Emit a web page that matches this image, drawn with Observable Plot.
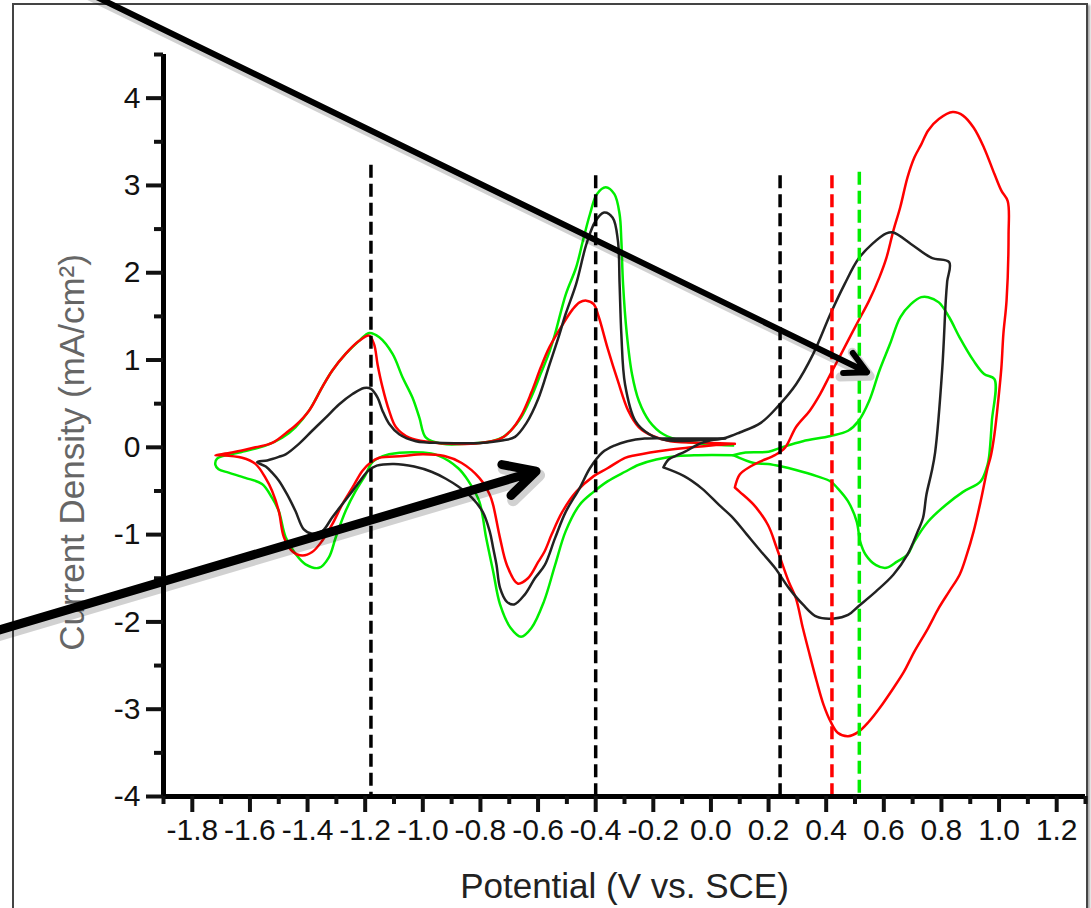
<!DOCTYPE html>
<html><head><meta charset="utf-8">
<script src="https://cdn.jsdelivr.net/npm/d3@7"></script>
<script src="https://cdn.jsdelivr.net/npm/@observablehq/plot@0.6"></script>
<style>
html,body{margin:0;padding:0;overflow:hidden;background:#fff;}
#wrap{position:relative;width:1091px;height:908px;overflow:hidden;}
#border{position:absolute;left:12px;top:3px;width:1072px;height:1000px;border:2px solid #444;box-shadow:2px 2px 2px rgba(0,0,0,0.35);}
#chart{position:absolute;left:0;top:0;}
</style></head><body>
<div id="wrap"><div id="border"></div><div id="chart"></div></div>
<script>
// ---- axis ticks ----
const xTicksMajor = [-1.8,-1.6,-1.4,-1.2,-1.0,-0.8,-0.6,-0.4,-0.2,0.0,0.2,0.4,0.6,0.8,1.0,1.2];
const xTicksMinor = [-1.9,-1.7,-1.5,-1.3,-1.1,-0.9,-0.7,-0.5,-0.3,-0.1,0.1,0.3,0.5,0.7,0.9,1.1,1.3];
const yTicksMajor = [-4,-3,-2,-1,0,1,2,3,4];
const yTicksMinor = [-3.5,-2.5,-1.5,-0.5,0.5,1.5,2.5,3.5,4.5];
const xTitle = "Potential (V vs. SCE)";
const yTitle = "Current Density (mA/cm\u00B2)";

// ---- black CV (potential V, current mA/cm2) ----
const blackLeft = [[0.05,0.10],[-0.10,0.10],[-0.23,0.10],[-0.29,0.07],[-0.335,0.02],[-0.377,-0.06],[-0.42,-0.24],[-0.456,-0.47],[-0.504,-0.74],[-0.541,-1.04],[-0.577,-1.35],[-0.611,-1.50],[-0.647,-1.69],[-0.683,-1.80],[-0.708,-1.77],[-0.732,-1.61],[-0.744,-1.35],[-0.756,-1.15],[-0.768,-0.96],[-0.792,-0.74],[-0.829,-0.58],[-0.877,-0.45],[-0.92,-0.36],[-0.97,-0.28],[-1.03,-0.22],[-1.10,-0.19],[-1.16,-0.21],[-1.19,-0.27],[-1.21,-0.35],[-1.244,-0.50],[-1.279,-0.65],[-1.314,-0.80],[-1.349,-0.96],[-1.384,-0.99],[-1.413,-0.94],[-1.442,-0.73],[-1.471,-0.54],[-1.50,-0.38],[-1.523,-0.29],[-1.545,-0.22],[-1.575,-0.17],[-1.54,-0.15],[-1.50,-0.11],[-1.476,-0.08],[-1.43,0.04],[-1.384,0.19],[-1.337,0.34],[-1.291,0.49],[-1.244,0.61],[-1.204,0.68],[-1.18,0.67],[-1.157,0.57],[-1.14,0.42],[-1.117,0.27],[-1.082,0.15],[-1.024,0.07],[-0.93,0.05],[-0.80,0.05],[-0.72,0.08],[-0.68,0.12],[-0.64,0.28],[-0.60,0.55],[-0.56,0.95],[-0.53,1.25],[-0.504,1.53],[-0.468,1.87],[-0.432,2.33],[-0.401,2.59],[-0.371,2.69],[-0.341,2.63],[-0.323,2.37],[-0.317,1.87],[-0.311,1.30],[-0.298,0.72],[-0.262,0.30],[-0.214,0.15],[-0.153,0.08],[-0.05,0.08],[0.05,0.10]];
const blackRight = [[-0.165,-0.23],[-0.147,-0.14],[-0.117,-0.09],[-0.09,-0.05],[-0.04,0.04],[0.0,0.08],[0.052,0.11],[0.10,0.17],[0.173,0.28],[0.234,0.475],[0.295,0.72],[0.355,1.07],[0.415,1.53],[0.464,1.87],[0.512,2.16],[0.56,2.33],[0.609,2.45],[0.633,2.46],[0.694,2.33],[0.766,2.17],[0.827,2.12],[0.82,1.90],[0.815,1.68],[0.803,0.91],[0.778,-0.06],[0.766,-0.28],[0.748,-0.54],[0.736,-0.81],[0.718,-0.96],[0.682,-1.23],[0.633,-1.46],[0.573,-1.65],[0.512,-1.82],[0.476,-1.92],[0.428,-1.96],[0.367,-1.94],[0.319,-1.80],[0.27,-1.61],[0.222,-1.38],[0.173,-1.19],[0.125,-1.0],[0.077,-0.81],[0.028,-0.66],[-0.032,-0.47],[-0.093,-0.33],[-0.165,-0.23]];

// ---- red CV ----
const redLeft = [[0.083,0.04],[0.0,0.02],[-0.15,-0.03],[-0.262,-0.09],[-0.298,-0.12],[-0.359,-0.24],[-0.407,-0.33],[-0.468,-0.51],[-0.516,-0.74],[-0.553,-1.0],[-0.577,-1.19],[-0.599,-1.31],[-0.635,-1.50],[-0.671,-1.56],[-0.708,-1.35],[-0.732,-1.04],[-0.756,-0.66],[-0.768,-0.54],[-0.804,-0.35],[-0.865,-0.18],[-0.925,-0.10],[-1.0,-0.08],[-1.07,-0.10],[-1.151,-0.12],[-1.18,-0.17],[-1.21,-0.27],[-1.244,-0.46],[-1.279,-0.65],[-1.314,-0.88],[-1.349,-1.07],[-1.384,-1.20],[-1.418,-1.24],[-1.453,-1.19],[-1.482,-1.03],[-1.50,-0.73],[-1.523,-0.50],[-1.546,-0.35],[-1.581,-0.19],[-1.627,-0.12],[-1.697,-0.09],[-1.72,-0.09],[-1.662,-0.06],[-1.581,0.0],[-1.523,0.05],[-1.465,0.19],[-1.442,0.25],[-1.395,0.42],[-1.349,0.69],[-1.314,0.88],[-1.268,1.07],[-1.221,1.22],[-1.186,1.28],[-1.169,1.18],[-1.157,0.95],[-1.14,0.69],[-1.117,0.42],[-1.093,0.23],[-1.047,0.11],[-0.977,0.06],[-0.908,0.04],[-0.80,0.05],[-0.73,0.10],[-0.695,0.19],[-0.659,0.36],[-0.623,0.63],[-0.59,0.92],[-0.56,1.15],[-0.516,1.40],[-0.48,1.58],[-0.456,1.66],[-0.432,1.68],[-0.407,1.64],[-0.389,1.49],[-0.359,1.14],[-0.323,0.76],[-0.287,0.42],[-0.25,0.23],[-0.202,0.13],[-0.141,0.07],[0.0,0.05],[0.083,0.04]];
const redRight = [[0.083,-0.46],[0.10,-0.31],[0.137,-0.22],[0.173,-0.16],[0.222,-0.09],[0.258,0.0],[0.295,0.23],[0.343,0.42],[0.379,0.61],[0.415,0.84],[0.452,1.07],[0.488,1.30],[0.512,1.45],[0.549,1.68],[0.585,1.95],[0.609,2.17],[0.633,2.48],[0.657,2.75],[0.682,3.09],[0.706,3.32],[0.73,3.47],[0.754,3.63],[0.791,3.76],[0.839,3.84],[0.875,3.80],[0.912,3.66],[0.948,3.43],[0.984,3.13],[1.008,2.94],[1.030,2.82],[1.033,2.44],[1.026,1.68],[1.015,1.30],[1.008,0.91],[0.997,0.53],[0.984,0.15],[0.972,-0.09],[0.96,-0.24],[0.936,-0.62],[0.912,-0.96],[0.888,-1.23],[0.863,-1.46],[0.827,-1.65],[0.791,-1.84],[0.754,-2.07],[0.706,-2.34],[0.67,-2.57],[0.633,-2.76],[0.585,-2.99],[0.549,-3.14],[0.512,-3.26],[0.476,-3.31],[0.44,-3.27],[0.415,-3.14],[0.391,-2.95],[0.367,-2.68],[0.343,-2.38],[0.319,-2.07],[0.295,-1.73],[0.27,-1.54],[0.228,-1.15],[0.198,-0.89],[0.149,-0.66],[0.10,-0.51],[0.083,-0.46]];

// ---- green CV ----
const greenLeft = [[0.077,-0.09],[-0.045,-0.09],[-0.117,-0.10],[-0.19,-0.14],[-0.25,-0.20],[-0.298,-0.28],[-0.359,-0.39],[-0.407,-0.51],[-0.456,-0.66],[-0.504,-0.96],[-0.541,-1.35],[-0.58,-1.77],[-0.623,-2.07],[-0.659,-2.17],[-0.695,-2.07],[-0.732,-1.80],[-0.756,-1.42],[-0.78,-1.04],[-0.804,-0.62],[-0.841,-0.39],[-0.877,-0.24],[-0.95,-0.09],[-1.0,-0.06],[-1.117,-0.08],[-1.163,-0.14],[-1.18,-0.19],[-1.198,-0.31],[-1.233,-0.50],[-1.268,-0.73],[-1.302,-1.03],[-1.326,-1.26],[-1.36,-1.38],[-1.407,-1.34],[-1.442,-1.22],[-1.476,-1.03],[-1.50,-0.73],[-1.523,-0.58],[-1.558,-0.42],[-1.616,-0.35],[-1.674,-0.29],[-1.709,-0.25],[-1.72,-0.20],[-1.714,-0.13],[-1.638,-0.06],[-1.546,0.02],[-1.488,0.11],[-1.442,0.23],[-1.395,0.42],[-1.349,0.69],[-1.314,0.88],[-1.268,1.07],[-1.221,1.22],[-1.186,1.31],[-1.151,1.26],[-1.105,1.07],[-1.07,0.80],[-1.036,0.57],[-1.012,0.34],[-0.989,0.11],[-0.931,0.04],[-0.85,0.04],[-0.76,0.07],[-0.72,0.12],[-0.695,0.19],[-0.659,0.34],[-0.623,0.58],[-0.59,0.85],[-0.56,1.10],[-0.541,1.30],[-0.504,1.75],[-0.468,2.06],[-0.444,2.37],[-0.42,2.67],[-0.396,2.90],[-0.365,2.98],[-0.335,2.90],[-0.317,2.67],[-0.311,2.37],[-0.305,1.87],[-0.292,1.30],[-0.274,0.84],[-0.25,0.53],[-0.214,0.30],[-0.165,0.15],[-0.093,0.07],[0.077,0.02]];
const greenRight = [[0.077,-0.09],[0.12,-0.06],[0.20,-0.05],[0.246,0.0],[0.319,0.07],[0.415,0.13],[0.476,0.19],[0.512,0.30],[0.549,0.53],[0.585,0.88],[0.621,1.18],[0.657,1.49],[0.694,1.64],[0.73,1.72],[0.754,1.72],[0.791,1.66],[0.827,1.49],[0.863,1.26],[0.912,0.99],[0.948,0.84],[0.984,0.78],[0.975,0.30],[0.966,-0.09],[0.96,-0.20],[0.936,-0.39],[0.875,-0.51],[0.815,-0.66],[0.754,-0.85],[0.706,-1.08],[0.682,-1.23],[0.646,-1.31],[0.609,-1.38],[0.573,-1.35],[0.537,-1.23],[0.518,-1.08],[0.506,-0.85],[0.476,-0.62],[0.44,-0.47],[0.415,-0.39],[0.367,-0.33],[0.295,-0.26],[0.246,-0.22],[0.198,-0.19],[0.149,-0.18],[0.077,-0.09]];

// ---- dashed marker potentials ----
const dashBlackX = [-1.18, -0.40, 0.24];
const dashBlackTop = [3.23, 3.11, 3.11];
const dashRedX = [0.42];
const dashRedTop = [3.11];
const dashGreenX = [0.515];
const dashGreenTop = [3.15];

// ---- annotation arrows (data coordinates) ----
const arrowX1 = [-2.212, -2.535];
const arrowY1 = [5.287, -2.156];
const arrowX2 = [0.542, -0.607];
const arrowY2 = [0.860, -0.274];

const BLACK = "#222", RED = "#ff0000", GREEN = "#00ee00";
const segs = [
  {pts: greenLeft, c: GREEN}, {pts: greenRight, c: GREEN},
  {pts: redLeft, c: RED}, {pts: redRight, c: RED},
  {pts: blackLeft, c: BLACK}, {pts: blackRight, c: BLACK}
];

const lineMarks = segs.map(s => Plot.line(s.pts, {x: d => d[0], y: d => d[1], stroke: s.c, strokeWidth: 2.5, curve: "catmull-rom"}));

function dashMark(xs, tops, color) {
  return Plot.ruleX(xs.map((x, i) => ({x, top: tops[i]})), {x: "x", y1: "top", y2: () => -4, stroke: color, strokeWidth: 3.5, strokeDasharray: "13,6"});
}
function arrowMark(i, opts) {
  return Plot.arrow([i], {x1: j => arrowX1[j], y1: j => arrowY1[j], x2: j => arrowX2[j], y2: j => arrowY2[j], headAngle: 55, ...opts});
}

const fmtX = d => d.toFixed(1);
const chart = Plot.plot({
  width: 1091, height: 908,
  marginLeft: 163, marginRight: 6, marginTop: 54, marginBottom: 112,
  x: {domain: [-1.9, 1.3], label: null},
  y: {domain: [-4, 4.5], label: null},
  style: {background: "transparent", overflow: "visible", fontFamily: "'Liberation Sans', Arial, sans-serif", fontSize: "30px", color: "#111"},
  marks: [
    ...lineMarks,
    dashMark(dashBlackX, dashBlackTop, "#000"),
    dashMark(dashRedX, dashRedTop, RED),
    dashMark(dashGreenX, dashGreenTop, GREEN),
    Plot.ruleY([-4], {strokeWidth: 5, stroke: "#000"}),
    Plot.ruleX([-1.9], {strokeWidth: 5, stroke: "#000"}),
    Plot.axisX(xTicksMajor, {tickSize: 16, tickPadding: 6, strokeWidth: 4, tickFormat: fmtX, fontSize: 30, label: null}),
    Plot.axisX(xTicksMinor, {tickSize: 8, strokeWidth: 4, tickFormat: () => "", label: null}),
    Plot.axisY(yTicksMajor, {tickSize: 17, tickPadding: 6, strokeWidth: 4, tickFormat: d => String(d), fontSize: 30, label: null}),
    Plot.axisY(yTicksMinor, {tickSize: 9, strokeWidth: 4, tickFormat: () => "", label: null}),
    Plot.text([xTitle], {frameAnchor: "bottom", dy: 90, text: d => d, fontSize: 35, fill: "#222", lineAnchor: "middle", textAnchor: "middle"}),
    Plot.text([yTitle], {frameAnchor: "left", dx: -91, dy: 27, rotate: -90, text: d => d, fontSize: 35, fill: "#666", lineAnchor: "middle", textAnchor: "middle"}),
    arrowMark(0, {stroke: "#000", strokeOpacity: 0.18, strokeWidth: 9, headLength: 5, dx: 3, dy: 4}),
    arrowMark(1, {stroke: "#000", strokeOpacity: 0.18, strokeWidth: 12, headLength: 4.5, dx: 3, dy: 4}),
    arrowMark(0, {stroke: "#000", strokeWidth: 6, headLength: 6}),
    arrowMark(1, {stroke: "#000", strokeWidth: 9, headLength: 5.8})
  ]
});
document.getElementById("chart").appendChild(chart);
</script>
</body></html>
